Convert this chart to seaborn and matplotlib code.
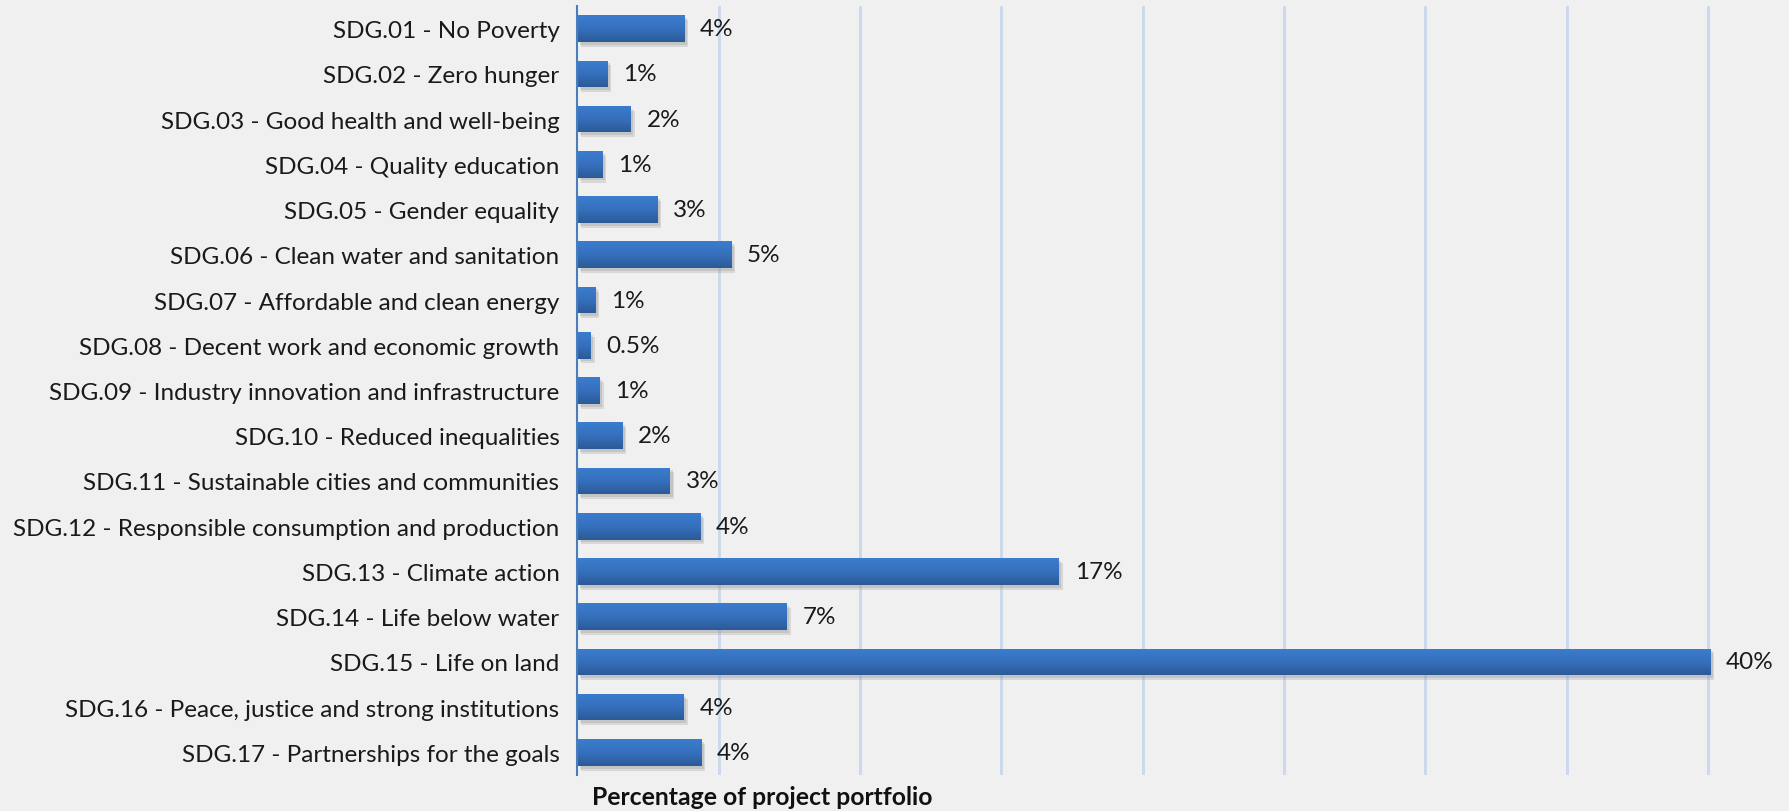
import numpy as np
import pandas as pd
import matplotlib
matplotlib.use("Agg")
import matplotlib.pyplot as plt
import matplotlib.patheffects as pe
import seaborn as sns

goals = [
    "SDG.01 - No Poverty",
    "SDG.02 - Zero hunger",
    "SDG.03 - Good health and well-being",
    "SDG.04 - Quality education",
    "SDG.05 - Gender equality",
    "SDG.06 - Clean water and sanitation",
    "SDG.07 - Affordable and clean energy",
    "SDG.08 - Decent work and economic growth",
    "SDG.09 - Industry innovation and infrastructure",
    "SDG.10 - Reduced inequalities",
    "SDG.11 - Sustainable cities and communities",
    "SDG.12 - Responsible consumption and production",
    "SDG.13 - Climate action",
    "SDG.14 - Life below water",
    "SDG.15 - Life on land",
    "SDG.16 - Peace, justice and strong institutions",
    "SDG.17 - Partnerships for the goals",
]
share_pct = [3.8, 1.08, 1.9, 0.89, 2.84, 5.45, 0.64, 0.48, 0.8, 1.6,
             3.29, 4.36, 17.05, 7.42, 40.1, 3.78, 4.4]
x_title = "Percentage of project portfolio"


def pct_label(v):
    r = round(v)
    return "0.5%" if r == 0 else f"{r:.0f}%"


df = pd.DataFrame({"goal": goals, "share": share_pct})

sns.set_theme(style="white")
plt.rcParams["font.family"] = ["Lato", "DejaVu Sans"]

BG = "#f0f0f0"
FS = 17.5
fig = plt.figure(figsize=(17.9, 8.12), dpi=100, facecolor=BG)
W, H = 1790, 812
ax = fig.add_axes([577.5 / W, 1 - 776 / H, (W - 577.5) / W, (776 - 7) / H])
ax.set_facecolor(BG)

sns.barplot(data=df, x="share", y="goal", orient="h", color="#3670bd",
            width=0.59, linewidth=0, ax=ax, zorder=3)

# vertical gridlines every 5%
for gx in np.arange(5, 41, 5):
    ax.axvline(gx, color="#c9d8ec", lw=2, zorder=1)

# gradient fill and soft drop shadow on each bar
grad = np.linspace(0, 1, 64).reshape(-1, 1)
cmap = matplotlib.colors.LinearSegmentedColormap.from_list(
    "bar", ["#3b7dcf", "#3670bd", "#2c5a97"])
for p in ax.patches:
    p.set_linewidth(0)
    p.set_path_effects([
        pe.SimplePatchShadow(offset=(2.5, -3.5), shadow_rgbFace="#9a9a9a", alpha=0.28),
        pe.SimplePatchShadow(offset=(1.5, -2), shadow_rgbFace="#8a8a8a", alpha=0.25),
        pe.Normal()])
    x0, y0, w, h = p.get_x(), p.get_y(), p.get_width(), p.get_height()
    im = ax.imshow(grad, cmap=cmap, aspect="auto", extent=(x0, x0 + w, y0 + h, y0),
                   zorder=4, interpolation="bilinear")
    im.set_clip_path(p)

ax.set_xlim(0, 42.9)
ax.set_ylim(len(goals) - 0.5, -0.5)

ax.bar_label(ax.containers[0], labels=[pct_label(v) for v in share_pct],
             padding=11, fontsize=FS, color="#1a1a1a")

for s in ["top", "right", "bottom"]:
    ax.spines[s].set_visible(False)
ax.spines["left"].set_color("#4a7ebb")
ax.spines["left"].set_linewidth(1.5)
ax.spines["left"].set_zorder(5)

ax.set_xticks([])
ax.set_xlabel("")
ax.set_ylabel("")
ax.tick_params(axis="y", length=0, pad=13, labelsize=FS, labelcolor="#1a1a1a")

fig.text(592 / W, 1 - 798 / H, x_title, fontsize=17.8, fontweight="bold",
         color="#111111", ha="left", va="center")

fig.savefig("out.png", dpi=100, facecolor=BG)
